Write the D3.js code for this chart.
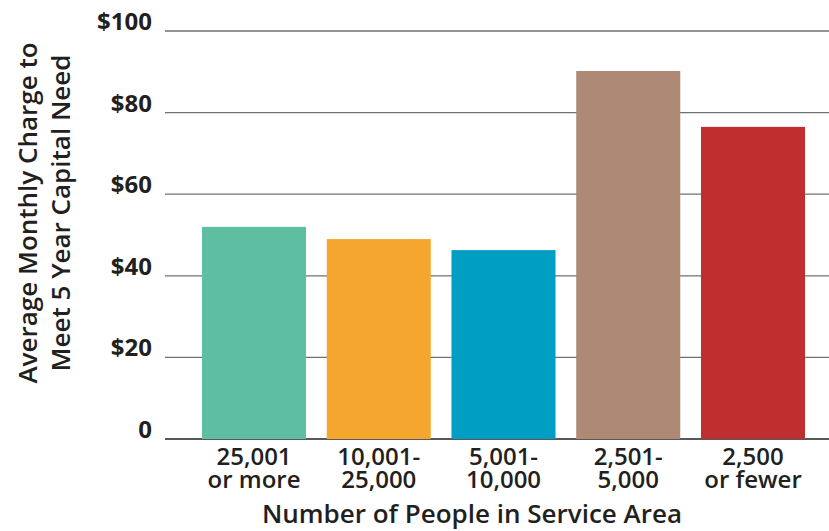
<!DOCTYPE html>
<html>
<head>
<meta charset="utf-8">
<script src="https://cdn.jsdelivr.net/npm/d3@7"></script>
<style>
  html, body { margin: 0; padding: 0; background: #fff; }
  svg { display: block; }
  text { font-family: "Open Sans", "DejaVu Sans", sans-serif; fill: #231f20; font-weight: 600; }
</style>
</head>
<body>
<svg id="chart" width="829" height="531"></svg>
<script>
// Service-area size groups and the average monthly charge for each
const categories = ["25,001 or more", "10,001-25,000", "5,001-10,000", "2,501-5,000", "2,500 or fewer"];
const categoryLines = [["25,001", "or more"], ["10,001-", "25,000"], ["5,001-", "10,000"], ["2,501-", "5,000"], ["2,500", "or fewer"]];
const charges = [52, 49, 46.3, 90.2, 76.5];
const barColors = ["#5ebea2", "#f4a62e", "#019ec4", "#ae8a76", "#c02f30"];
const yTicks = [0, 20, 40, 60, 80, 100];
const yTickLabels = ["0", "$20", "$40", "$60", "$80", "$100"];
const yTitle = ["Average Monthly Charge to", "Meet 5 Year Capital Need"];
const xTitle = "Number of People in Service Area";

const svg = d3.select("#chart");

const x = d3.scaleBand()
  .domain(categories)
  .range([202, 805])
  .paddingInner(0.166)
  .paddingOuter(0);

const y = d3.scaleLinear()
  .domain([0, 100])
  .range([439, 31]);

const gridLeft = 165, gridRight = 829;

// horizontal gridlines (drawn under the bars)
svg.append("g")
  .selectAll("line")
  .data(yTicks.filter(d => d !== 0))
  .join("line")
  .attr("x1", gridLeft)
  .attr("x2", gridRight)
  .attr("y1", d => y(d))
  .attr("y2", d => y(d))
  .attr("stroke", "#707070")
  .attr("stroke-width", 1.3);

// baseline
svg.append("line")
  .attr("x1", gridLeft)
  .attr("x2", gridRight)
  .attr("y1", y(0))
  .attr("y2", y(0))
  .attr("stroke", "#231f20")
  .attr("stroke-width", 1.5);

// bars
svg.append("g")
  .selectAll("rect")
  .data(charges)
  .join("rect")
  .attr("x", (d, i) => x(categories[i]))
  .attr("width", x.bandwidth())
  .attr("y", d => y(d))
  .attr("height", d => y(0) - y(d))
  .attr("fill", (d, i) => barColors[i]);

// y tick labels
svg.append("g")
  .selectAll("text")
  .data(yTicks)
  .join("text")
  .attr("x", 152)
  .attr("y", d => y(d) - 1)
  .attr("text-anchor", "end")
  .style("font-size", "24px")
  .style("font-weight", 700)
  .text((d, i) => yTickLabels[i]);

// x category labels, two lines each
const xLabels = svg.append("g")
  .selectAll("text")
  .data(categories)
  .join("text")
  .attr("text-anchor", "middle")
  .style("font-size", "24px")
  .attr("transform", d => `translate(${x(d) + x.bandwidth() / 2},465)`);
xLabels.selectAll("tspan")
  .data((d, i) => categoryLines[i])
  .join("tspan")
  .attr("x", 0)
  .attr("y", (d, j) => j * 23)
  .text(d => d);

// x axis title
svg.append("text")
  .attr("x", 472)
  .attr("y", 523)
  .attr("text-anchor", "middle")
  .style("font-size", "26px")
  .text(xTitle);

// y axis title, rotated, two lines
const yt = svg.append("text")
  .attr("transform", "translate(0,213) rotate(-90)")
  .attr("text-anchor", "middle")
  .style("font-size", "26px");
yt.selectAll("tspan")
  .data(yTitle)
  .join("tspan")
  .attr("x", 0)
  .attr("y", (d, i) => 37 + i * 33)
  .text(d => d);
</script>
</body>
</html>
